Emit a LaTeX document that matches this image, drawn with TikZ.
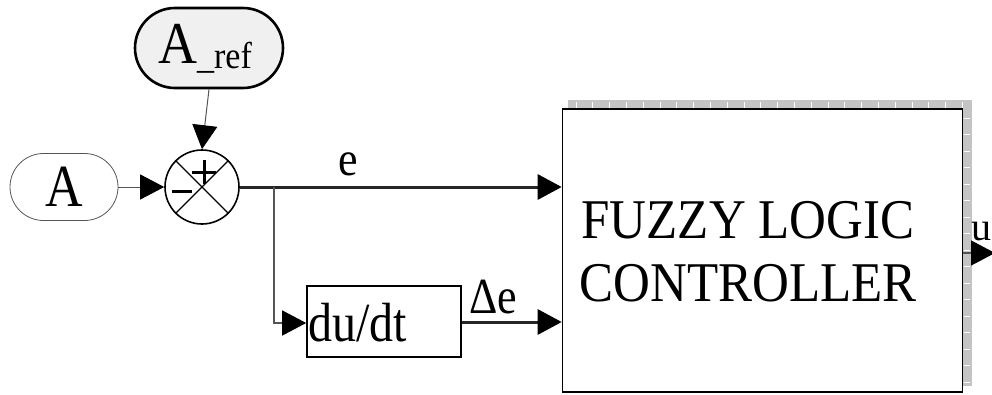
\documentclass[tikz,border=0pt]{standalone}
\usepackage{fontspec}
\setmainfont{Liberation Serif}
\usetikzlibrary{arrows.meta,shapes.misc}
\definecolor{ruler}{HTML}{C4C4C4}
\definecolor{thin}{HTML}{555555}
\tikzset{
  fnt/.style={font=\fontsize{#1}{#1}\selectfont},
  tip/.style={-{Triangle[length=24pt,width=25pt,color=black]}},
  signal/.style={rounded rectangle, draw, inner sep=0pt},
  blockbox/.style={draw, line width=1.6pt, inner sep=0pt},
}
\begin{document}
\begin{tikzpicture}[x=1pt,y=-1pt]
\useasboundingbox (0,0) rectangle (992,394);
% gray ruler frame behind the controller block
\fill[ruler] (568,100) rectangle (972,110);
\fill[ruler] (962,100) rectangle (972,386);
\foreach \t in {0,...,23} {
  \draw[white,line width=0.8pt] (576+\t*16.8,102) -- (576+\t*16.8,108);
}
\foreach \t in {0,...,16} {
  \draw[white,line width=0.8pt] (964,118+\t*16.5) -- (970,118+\t*16.5);
}
% blocks
\node[signal, draw=thin, line width=0.8pt, minimum width=108pt, minimum height=67pt] (a) at (64,187) {};
\node[fnt=52] at (64,187) {\scalebox{1}[1.15]{A}};
\node[signal, line width=2.6pt, fill=gray!12, minimum width=148pt, minimum height=80pt] (aref) at (209,48) {};
\node[fnt=54] at (205,49) {\scalebox{1}[1.1]{A\raisebox{-4pt}{\fontsize{34}{34}\selectfont\_ref}}};
\node[circle, draw, line width=1.6pt, minimum size=74pt, inner sep=0pt] (sum) at (202,187) {};
\draw[line width=1.4pt] (sum.north west) -- (sum.south east) (sum.north east) -- (sum.south west);
\draw[line width=3pt] (204,160) -- (204,184) (192,172) -- (216,172);
\draw[line width=3pt] (172,191) -- (192,191);
\node[blockbox, minimum width=154pt, minimum height=71pt] (diff) at (384,321.5) {};
\node[fnt=48, anchor=west, inner sep=0pt] at (308,323) {\scalebox{1}[1.15]{du/dt}};
\node[blockbox, minimum width=400pt, minimum height=283pt] (flc) at (762.5,250.5) {};
\node[fnt=51, align=center] at (748,252) {\scalebox{1}[1.1]{FUZZY LOGIC}\\[12pt]\scalebox{1}[1.1]{CONTROLLER}};
% connectors
\coordinate (br) at (274,187);
\coordinate (brd) at (274,323);
\coordinate (out) at (995,253);
\draw[tip, draw=thin, line width=1pt] (a.east) -- (sum.west);
\draw[tip, draw=thin, line width=1pt] (aref.south) -- (sum.north);
\draw[tip, line width=3pt, draw=black!85] (sum.east) -- (flc.west |- sum.east);
\draw[tip, draw=thin, line width=1.2pt] (br) -- (brd) -- (diff.west |- brd);
\draw[tip, line width=3pt, draw=black!85] (diff.east |- 0,322) -- (flc.west |- 0,322);
\draw[tip, draw=thin, line width=1.2pt] (flc.east |- out) -- (out);
% signal labels
\node[fnt=44] at (348,164) {\scalebox{1}[1.1]{e}};
\node[fnt=44] at (493,297) {\scalebox{1}[1.15]{Δe}};
\node[fnt=40, inner sep=0pt] at (981,232) {u};
\end{tikzpicture}
\end{document}
